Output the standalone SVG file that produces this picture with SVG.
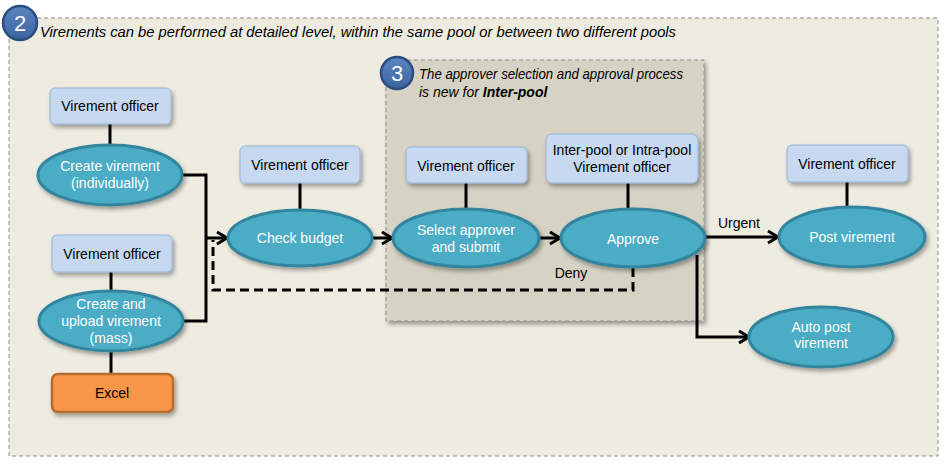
<svg xmlns="http://www.w3.org/2000/svg" width="944" height="464" viewBox="0 0 944 464">
<defs>
<filter id="sh" x="-20%" y="-20%" width="150%" height="160%">
<feDropShadow dx="2" dy="3" stdDeviation="2" flood-color="#000" flood-opacity="0.35"/>
</filter>
<marker id="arr" markerUnits="userSpaceOnUse" markerWidth="16" markerHeight="16" refX="13" refY="8" orient="auto">
<path d="M3,2 L13,8 L3,14" fill="none" stroke="#000" stroke-width="3"/>
</marker>
<linearGradient id="badge" x1="0" y1="0" x2="0" y2="1">
<stop offset="0" stop-color="#5B86C0"/>
<stop offset="1" stop-color="#3B63A0"/>
</linearGradient>
</defs>
<style>
text{font-family:"Liberation Sans",Arial,sans-serif;font-size:14px;}
.box{fill:#C6D9F1;stroke:#95B3D7;stroke-width:1;filter:url(#sh);}
.xl{fill:#F79646;stroke:#B66D31;stroke-width:2.5;filter:url(#sh);}
.ell{fill:#4BACC6;stroke:#31859C;stroke-width:3;filter:url(#sh);}
.bt{fill:#000;text-anchor:middle;}
.et{fill:#fff;text-anchor:middle;}
.ln{stroke:#000;stroke-width:3;fill:none;}
.badge{fill:url(#badge);stroke:#2C4D7F;stroke-width:2.5;}
.bnum{fill:#fff;font-size:22px;text-anchor:middle;}
.it{font-style:italic;fill:#000;}
</style>

<g id="pool-outer">
<rect x="9" y="18" width="929" height="438" fill="#EEEBE1" stroke="#8C8C8C" stroke-width="1" stroke-dasharray="4,3"/>
<circle class="badge" cx="20" cy="23" r="17"/>
<text class="bnum" x="20" y="31">2</text>
<text class="it" x="40" y="37" textLength="636" lengthAdjust="spacingAndGlyphs">Virements can be performed at detailed level, within the same pool or between two different pools</text>
</g>

<g id="pool-inner">
<rect x="386" y="60" width="318" height="261" fill="#D6D2C4" stroke="#8C8C8C" stroke-width="1" stroke-dasharray="4,3" filter="url(#sh)"/>
<circle class="badge" cx="397" cy="73" r="16"/>
<text class="bnum" x="397" y="81">3</text>
<text class="it" x="419" y="79" textLength="264" lengthAdjust="spacingAndGlyphs">The approver selection and approval process</text>
<text class="it" x="419" y="97">is new for <tspan font-weight="bold">Inter-pool</tspan></text>
</g>

<g id="connectors">
<line class="ln" x1="110" y1="124" x2="110" y2="145"/>
<line class="ln" x1="111" y1="272" x2="111" y2="291"/>
<line class="ln" x1="111" y1="352" x2="111" y2="374"/>
<line class="ln" x1="300" y1="183" x2="300" y2="210"/>
<line class="ln" x1="466" y1="183" x2="466" y2="209"/>
<line class="ln" x1="628" y1="183" x2="628" y2="209"/>
<line class="ln" x1="847" y1="182" x2="847" y2="207"/>
<path class="ln" d="M633,268 V290 H213 V240" stroke-dasharray="9,5"/>
<path class="ln" d="M183,175 H206 V321 H184"/>
<path class="ln" d="M206,238 H227" marker-end="url(#arr)"/>
<path class="ln" d="M372,238 H392" marker-end="url(#arr)"/>
<path class="ln" d="M539,238 H560" marker-end="url(#arr)"/>
<path class="ln" d="M705,237 H778" marker-end="url(#arr)"/>
<path class="ln" d="M697,255 V337 H749" marker-end="url(#arr)"/>
<text class="bt" x="739" y="228">Urgent</text>
<text class="bt" x="571" y="278">Deny</text>
</g>

<g id="officer1"><rect class="box" x="50" y="88" width="121" height="36" rx="5"/><text class="bt" x="110" y="111">Virement officer</text></g>
<g id="create-individual"><ellipse class="ell" cx="110" cy="175" rx="72" ry="30"/><text class="et" x="110" y="171">Create virement</text><text class="et" x="110" y="188">(individually)</text></g>
<g id="officer2"><rect class="box" x="52" y="235" width="120" height="37" rx="5"/><text class="bt" x="112" y="259">Virement officer</text></g>
<g id="create-mass"><ellipse class="ell" cx="111" cy="321" rx="72" ry="30"/><text class="et" x="111" y="309">Create and</text><text class="et" x="111" y="326">upload virement</text><text class="et" x="111" y="343">(mass)</text></g>
<g id="excel"><rect class="xl" x="52" y="374" width="121" height="38" rx="6"/><text class="bt" x="112" y="398">Excel</text></g>
<g id="officer3"><rect class="box" x="240" y="146" width="120" height="37" rx="5"/><text class="bt" x="300" y="170">Virement officer</text></g>
<g id="check-budget"><ellipse class="ell" cx="300" cy="238" rx="72" ry="28"/><text class="et" x="300" y="243">Check budget</text></g>
<g id="officer4"><rect class="box" x="406" y="147" width="121" height="36" rx="5"/><text class="bt" x="466" y="171">Virement officer</text></g>
<g id="select-approver"><ellipse class="ell" cx="466" cy="238" rx="73" ry="29"/><text class="et" x="466" y="235">Select approver</text><text class="et" x="466" y="252">and submit</text></g>
<g id="officer-approver"><rect class="box" x="546" y="134" width="152" height="49" rx="6"/><text class="bt" x="622" y="155">Inter-pool or Intra-pool</text><text class="bt" x="622" y="172">Virement officer</text></g>
<g id="approve"><ellipse class="ell" cx="633" cy="238" rx="72" ry="29"/><text class="et" x="633" y="244">Approve</text></g>
<g id="officer5"><rect class="box" x="787" y="145" width="121" height="37" rx="5"/><text class="bt" x="847" y="169">Virement officer</text></g>
<g id="post-virement"><ellipse class="ell" cx="852" cy="237" rx="73" ry="30"/><text class="et" x="852" y="242">Post virement</text></g>
<g id="auto-post"><ellipse class="ell" cx="821" cy="337" rx="72" ry="30"/><text class="et" x="821" y="332">Auto post</text><text class="et" x="821" y="348">virement</text></g>
</svg>
